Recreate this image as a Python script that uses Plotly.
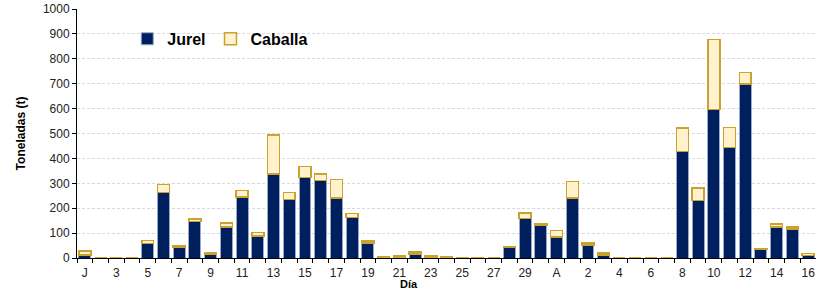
import plotly.graph_objects as go

dias = ["J"] + [str(d) for d in range(2, 31)] + ["A"] + [str(d) for d in range(1, 17)]

jurel = [13, 0, 0, 0, 58, 264, 44, 146, 16, 125, 245, 89, 337, 235, 323, 311, 240,
         162, 61, 2, 3, 16, 5, 1, 1, 2, 0, 45, 158, 130, 85, 241, 52, 12,
         0, 0, 0, 0, 428, 231, 597, 443, 698, 35, 124, 117, 11]
caballa = [15, 0, 0, 0, 13, 32, 7, 11, 6, 16, 27, 13, 156, 29, 45, 26, 76,
           17, 7, 3, 5, 9, 6, 3, 2, 0, 0, 1, 22, 7, 25, 67, 9, 8,
           0, 0, 0, 0, 94, 50, 280, 82, 48, 4, 12, 7, 7]

x = list(range(len(dias)))
label_idx = x[::2]

fig = go.Figure()
fig.add_trace(go.Bar(x=x, y=jurel, name="<b>Jurel</b>",
                     marker=dict(color="#001F5F", line=dict(color="#9AA8C6", width=1))))
fig.add_trace(go.Bar(x=x, y=caballa, name="<b>Caballa</b>",
                     marker=dict(color="#FFF2CC", line=dict(color="#C9A230", width=1.5))))

fig.update_layout(
    barmode="stack", bargap=0.24,
    width=816, height=293,
    margin=dict(l=77, r=0, t=9, b=35),
    plot_bgcolor="white", paper_bgcolor="white",
    font=dict(family="Liberation Sans, Arial, sans-serif", color="#222222", size=12),
    legend=dict(orientation="h", x=0.068, y=0.88, xanchor="left", yanchor="middle",
                font=dict(size=16, color="black", family="Liberation Sans, Arial, sans-serif"),
                bgcolor="rgba(0,0,0,0)", itemwidth=30, traceorder="normal"),
    showlegend=True,
)
fig.update_xaxes(
    range=[-0.5, len(dias) - 0.5],
    tickmode="array", tickvals=label_idx, ticktext=[dias[i] for i in label_idx],
    ticks="outside", ticklen=4, tickcolor="rgba(0,0,0,0)",
    showgrid=False, showline=True, linecolor="black", linewidth=1,
    tickfont=dict(size=12),
    minor=dict(tickmode="array", tickvals=[i - 0.5 for i in range(len(dias) + 1)],
               ticks="outside", ticklen=4, tickcolor="black", showgrid=False),
)
fig.update_yaxes(
    range=[0, 1000], dtick=100, tick0=0,
    ticks="outside", ticklen=4, tickcolor="black",
    showgrid=True, gridcolor="#D9D9D9", griddash="3px,2px", gridwidth=1,
    showline=True, linecolor="black", linewidth=1,
    zeroline=False, tickfont=dict(size=12),
    title=dict(text="<b>Toneladas (t)</b>", font=dict(size=12, color="black"), standoff=14),
)
fig.add_annotation(text="<b>Día</b>", xref="paper", yref="paper",
                   x=(409 - 77) / (816 - 77), y=-(284 - 258) / (258 - 9),
                   showarrow=False, font=dict(size=11, color="black"),
                   xanchor="center", yanchor="middle")

fig.write_html("out.html", config={"displayModeBar": False},
               post_script="document.body.style.margin='0';document.body.style.overflow='hidden';")
